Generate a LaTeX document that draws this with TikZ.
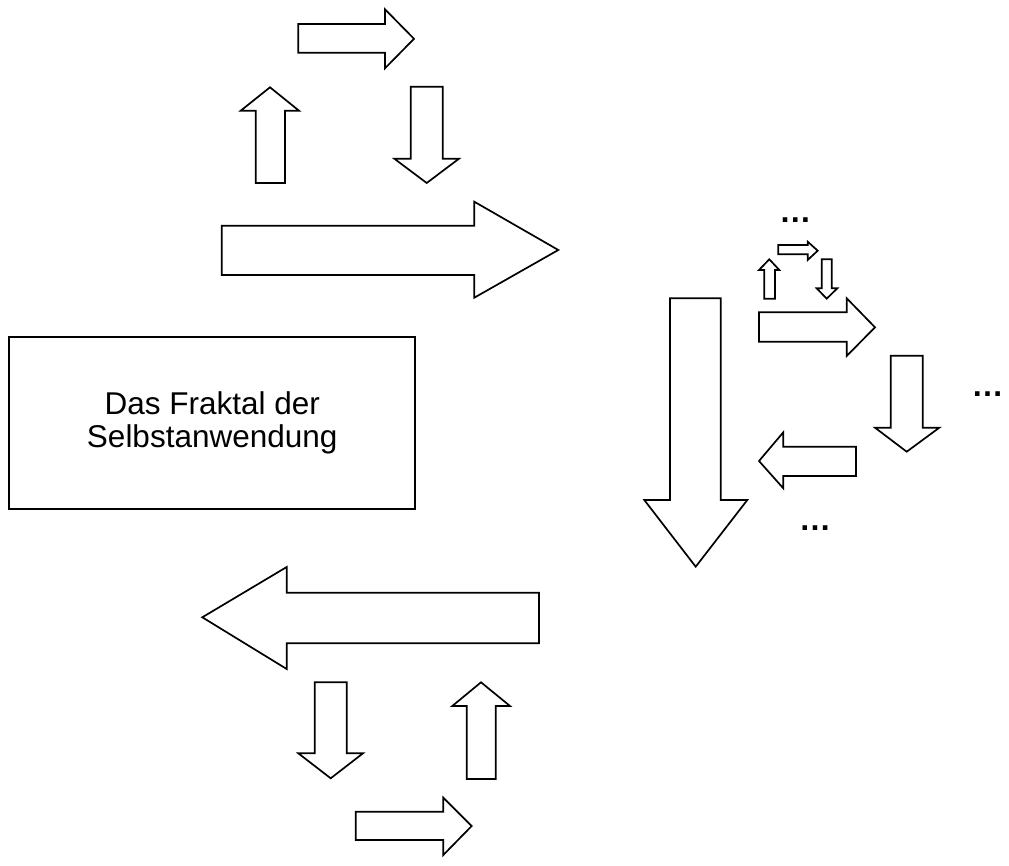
\documentclass[tikz,border=0pt]{standalone}
\usepackage{fontspec}
\setmainfont{Liberation Sans}
\begin{document}
\begin{tikzpicture}[x=1pt,y=-1pt,
  arrowshape/.style={draw=black,line width=1.7pt,fill=white,line join=miter},
  framebox/.style={draw=black,line width=2pt,minimum width=405.7pt,minimum height=172.6pt,align=center,inner sep=0pt,font=\fontsize{31.5}{32.7}\selectfont},
  ellip/.style={inner sep=0pt,anchor=base,font=\fontsize{32}{32}\selectfont\bfseries}]
\useasboundingbox (0,0) rectangle (1009,866);
% top group
\draw[arrowshape] (298.3,24) -- (385,24) -- (385,9.3) -- (414,38.8) -- (385,68.3) -- (385,52.7) -- (298.3,52.7) -- cycle;
\draw[arrowshape] (255.7,183) -- (255.7,110.7) -- (240.7,110.7) -- (270,87.3) -- (299,110.7) -- (285,110.7) -- (285,183) -- cycle;
\draw[arrowshape] (410.7,86.7) -- (442.7,86.7) -- (442.7,158.7) -- (459,158.7) -- (426.7,183) -- (394.3,158.7) -- (410.7,158.7) -- cycle;
\draw[arrowshape] (221.7,225.7) -- (474.3,225.7) -- (474.3,201.7) -- (558.3,250) -- (474.3,297.7) -- (474.3,275) -- (221.7,275) -- cycle;
% big down
\draw[arrowshape] (670,298.3) -- (720.7,298.3) -- (720.7,500) -- (747.3,500) -- (695.7,566.7) -- (644.3,500) -- (670,500) -- cycle;
% big left and bottom group
\draw[arrowshape] (539,592.7) -- (286.7,592.7) -- (286.7,567) -- (202.3,617.3) -- (286.7,669) -- (286.7,643.3) -- (539,643.3) -- cycle;
\draw[arrowshape] (314.7,682.3) -- (346.7,682.3) -- (346.7,753.3) -- (363,753.3) -- (330.7,778.3) -- (298.3,753.3) -- (314.7,753.3) -- cycle;
\draw[arrowshape] (466.7,779) -- (466.7,706) -- (452.3,706) -- (481,682.3) -- (510,706) -- (495.7,706) -- (495.7,779) -- cycle;
\draw[arrowshape] (355.7,811.7) -- (443.3,811.7) -- (443.3,797.7) -- (471.7,826) -- (443.3,855) -- (443.3,840) -- (355.7,840) -- cycle;
% right small group
\draw[arrowshape] (778.3,245) -- (807.7,245) -- (807.7,241.7) -- (817.7,250.7) -- (807.7,260) -- (807.7,254.3) -- (778.3,254.3) -- cycle;
\draw[arrowshape] (764.3,298.7) -- (764.3,270) -- (759,270) -- (769.3,259.3) -- (779.3,270) -- (775,270) -- (775,298.7) -- cycle;
\draw[arrowshape] (821.7,259.3) -- (831.7,259.3) -- (831.7,288.3) -- (837.3,288.3) -- (826.7,298.7) -- (816.7,288.3) -- (821.7,288.3) -- cycle;
\draw[arrowshape] (759,312.3) -- (846.7,312.3) -- (846.7,298.3) -- (875,327.3) -- (846.7,356) -- (846.7,341.7) -- (759,341.7) -- cycle;
\draw[arrowshape] (890.7,355.7) -- (922.7,355.7) -- (922.7,427.7) -- (939.3,427.7) -- (906.7,451.7) -- (875,427.7) -- (890.7,427.7) -- cycle;
\draw[arrowshape] (856,446.7) -- (783.3,446.7) -- (783.3,432.3) -- (759,461) -- (783.3,488.3) -- (783.3,476) -- (856,476) -- cycle;
% box
\node[framebox] (box) at (212.2,423) {Das Fraktal der\\Selbstanwendung};
% ellipses
\node[ellip] (d1) at (795.3,222.3) {…};
\node[ellip] (d2) at (987.5,396) {…};
\node[ellip] (d3) at (815,530) {…};
\end{tikzpicture}
\end{document}
